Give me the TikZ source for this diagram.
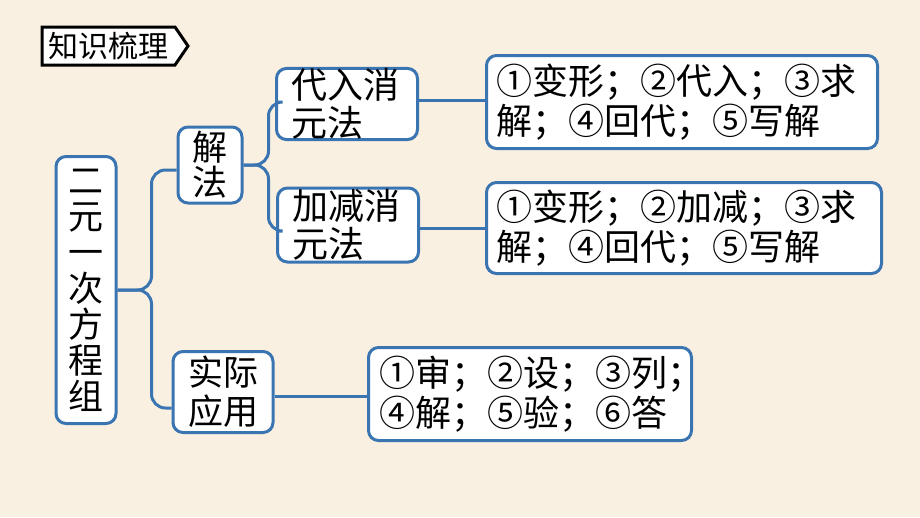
\documentclass[tikz,border=0pt]{standalone}
\usepackage{fontspec}
\setmainfont{Noto Sans CJK SC}
\usepackage{tikz}
\definecolor{bg}{RGB}{250,240,225}
\definecolor{mapblue}{RGB}{58,117,178}
\tikzset{
  mapbox/.style={draw=mapblue, line width=3pt, fill=white, rounded corners=10pt,
    inner xsep=0pt, inner ysep=0pt, font=\fontsize{36}{38}\selectfont},
  mapline/.style={draw=mapblue, line width=3pt, rounded corners=14pt}
}

\begin{document}
\begin{tikzpicture}[x=1pt, y=-1pt]

%background
\fill[bg] (0,0) rectangle (920,517);

%title tag
\draw[line width=3pt, fill=white, line join=miter] (42,27) -- (175,27) -- (188,46) -- (175,65) -- (42,65) -- cycle;
\node (title) at (108,46) {\fontsize{30}{30}\selectfont 知识梳理};

%boxes
\node[mapbox, minimum width=60pt, minimum height=267pt, align=center,
  font=\fontsize{35}{36}\selectfont] (root) at (86,290) {二\\元\\一\\次\\方\\程\\组};
%
\node[mapbox, minimum width=64pt, minimum height=76pt, align=center,
  font=\fontsize{35}{35}\selectfont] (jiefa) at (210,165) {解\\法};
\node[mapbox, minimum width=100pt, minimum height=81pt, align=center,
  font=\fontsize{35}{39}\selectfont] (yingyong) at (223,392) {实际\\应用};
%
\node[mapbox, minimum width=141pt, minimum height=70pt, text width=112pt, align=left] (dairu) at (347,104) {代入消\\元法};
\node[mapbox, minimum width=141pt, minimum height=74pt, text width=112pt, align=left] (jiajian) at (348,225) {加减消\\元法};
%
\node[mapbox, minimum width=391pt, minimum height=93pt, text width=371pt, align=left,
  font=\fontsize{36}{40}\selectfont] (dairustep) at (682,102) {\raisebox{-3pt}{①变形；②代入；③求}\\\raisebox{-3pt}{解；④回代；⑤写解}};
\node[mapbox, minimum width=395pt, minimum height=91pt, text width=375pt, align=left,
  font=\fontsize{36}{40}\selectfont] (jiajianstep) at (684,228) {\raisebox{-2pt}{①变形；②加减；③求}\\\raisebox{-2pt}{解；④回代；⑤写解}};
\node[mapbox, minimum width=323pt, minimum height=93pt, text width=301pt, align=left,
  font=\fontsize{36}{40}\selectfont] (yingyongstep) at (530,394) {\raisebox{-2pt}{①审；②设；③列；}\\\raisebox{-2pt}{④解；⑤验；⑥答}};

%lines
\draw[mapline] (root.east) -- ++(34,0) |- ([yshift=-5pt]jiefa.west);
\draw[mapline] (root.east) -- ++(34,0) |- ([yshift=-16pt]yingyong.west);
%
\draw[mapline] (jiefa.east) -- ++(25,0) |- ([yshift=2pt]dairu.west);
\draw[mapline] (jiefa.east) -- ++(25,0) |- ([yshift=-6pt]jiajian.west);
%
\draw[mapline] ([yshift=4pt]dairu.east) -- ([yshift=4pt]dairu.east -| dairustep.west);
\draw[mapline] ([yshift=-3pt]jiajian.east) -- ([yshift=-3pt]jiajian.east -| jiajianstep.west);
\draw[mapline] ([yshift=-4pt]yingyong.east) -- ([yshift=-4pt]yingyong.east -| yingyongstep.west);

\end{tikzpicture}
\end{document}
